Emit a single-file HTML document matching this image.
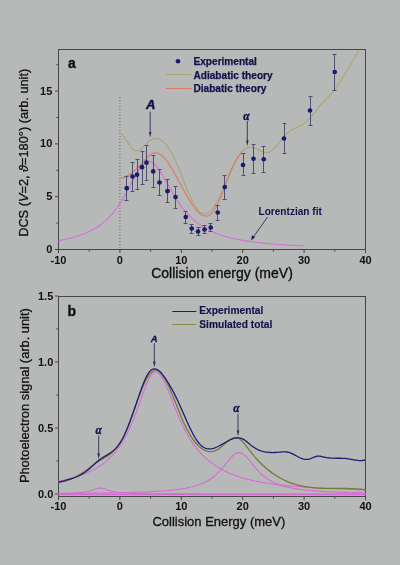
<!DOCTYPE html><html><head><meta charset="utf-8"><style>html,body{margin:0;padding:0;background:#b7b9b9;}svg{display:block;will-change:transform;}</style></head><body>
<svg width="400" height="565" viewBox="0 0 400 565" font-family="Liberation Sans, sans-serif">
<rect width="400" height="565" fill="#b7b9b9"/>
<rect x="58.5" y="49.5" width="307" height="200" fill="none" stroke="#464646" stroke-width="1"/>
<path d="M58.5,249.5 V253 M89.2,249.5 V251.7 M119.9,249.5 V253 M150.6,249.5 V251.7 M181.3,249.5 V253 M212,249.5 V251.7 M242.7,249.5 V253 M273.4,249.5 V251.7 M304.1,249.5 V253 M334.8,249.5 V251.7 M365.5,249.5 V253" stroke="#464646" stroke-width="1" fill="none"/>
<text x="58.5" y="264.2" font-size="11" font-weight="bold" text-anchor="middle" fill="#111">-10</text>
<text x="119.9" y="264.2" font-size="11" font-weight="bold" text-anchor="middle" fill="#111">0</text>
<text x="181.3" y="264.2" font-size="11" font-weight="bold" text-anchor="middle" fill="#111">10</text>
<text x="242.7" y="264.2" font-size="11" font-weight="bold" text-anchor="middle" fill="#111">20</text>
<text x="304.1" y="264.2" font-size="11" font-weight="bold" text-anchor="middle" fill="#111">30</text>
<text x="365.5" y="264.2" font-size="11" font-weight="bold" text-anchor="middle" fill="#111">40</text>
<path d="M58.5,249.5 H55 M58.5,223.1 H56.3 M58.5,196.7 H55 M58.5,170.3 H56.3 M58.5,143.9 H55 M58.5,117.5 H56.3 M58.5,91.1 H55 M58.5,64.7 H56.3" stroke="#464646" stroke-width="1" fill="none"/>
<text x="52.3" y="253" font-size="11" font-weight="bold" text-anchor="end" fill="#111">0</text>
<text x="52.3" y="200.2" font-size="11" font-weight="bold" text-anchor="end" fill="#111">5</text>
<text x="52.3" y="147.4" font-size="11" font-weight="bold" text-anchor="end" fill="#111">10</text>
<text x="52.3" y="94.6" font-size="11" font-weight="bold" text-anchor="end" fill="#111">15</text>
<text x="151.2" y="277.8" font-size="14" fill="#111" stroke="#111" stroke-width="0.35">Collision energy (meV)</text>
<text transform="translate(27.9,236.8) rotate(-90)" font-size="12.75" fill="#111" stroke="#111" stroke-width="0.3">DCS (<tspan font-style="italic">V</tspan>=2, <tspan font-style="italic">ϑ</tspan>=180°) (arb. unit)</text>
<text x="68" y="67.7" font-size="14" font-weight="bold" fill="#111" stroke="#111" stroke-width="0.35">a</text>
<line x1="119.9" y1="97" x2="119.9" y2="249" stroke="#555" stroke-width="0.8" stroke-dasharray="1 2"/>
<circle cx="178" cy="61.3" r="2.3" fill="#1a1a70"/>
<line x1="166" y1="74.5" x2="191.5" y2="74.5" stroke="#a6a672" stroke-width="1"/>
<line x1="166" y1="88.5" x2="191.5" y2="88.5" stroke="#da7866" stroke-width="1"/>
<g font-size="10.1" font-weight="bold" fill="#121248" stroke="#121248" stroke-width="0.25">
<text x="193.5" y="65.2">Experimental</text>
<text x="193.5" y="78.8">Adiabatic theory</text>
<text x="193.5" y="92.2">Diabatic theory</text>
</g>
<path d="M121,133.24 L121.5,133.75 L122,134.3 L122.5,134.89 L123,135.52 L123.5,136.18 L124,136.86 L124.5,137.57 L125,138.3 L125.5,139.04 L126,139.8 L126.5,140.56 L127,141.32 L127.5,142.09 L128,142.84 L128.5,143.59 L129,144.32 L129.5,145.03 L130,145.72 L130.5,146.39 L131,147.02 L131.5,147.62 L132,148.18 L132.5,148.69 L133,149.16 L133.5,149.57 L134,149.93 L134.5,150.23 L135,150.46 L135.5,150.63 L136,150.73 L136.5,150.77 L137,150.75 L137.5,150.67 L138,150.54 L138.5,150.37 L139,150.15 L139.5,149.88 L140,149.58 L140.5,149.24 L141,148.87 L141.5,148.47 L142,148.05 L142.5,147.6 L143,147.14 L143.5,146.66 L144,146.17 L144.5,145.67 L145,145.16 L145.5,144.66 L146,144.15 L146.5,143.65 L147,143.16 L147.5,142.67 L148,142.21 L148.5,141.76 L149,141.33 L149.5,140.93 L150,140.56 L150.5,140.21 L151,139.9 L151.5,139.62 L152,139.37 L152.5,139.16 L153,138.97 L153.5,138.81 L154,138.69 L154.5,138.59 L155,138.53 L155.5,138.49 L156,138.49 L156.5,138.52 L157,138.57 L157.5,138.66 L158,138.77 L158.5,138.92 L159,139.1 L159.5,139.3 L160,139.53 L160.5,139.8 L161,140.09 L161.5,140.41 L162,140.76 L162.5,141.14 L163,141.54 L163.5,141.98 L164,142.44 L164.5,142.94 L165,143.46 L165.5,144 L166,144.58 L166.5,145.18 L167,145.81 L167.5,146.47 L168,147.16 L168.5,147.87 L169,148.61 L169.5,149.38 L170,150.18 L170.5,151 L171,151.84 L171.5,152.72 L172,153.62 L172.5,154.55 L173,155.5 L173.5,156.48 L174,157.49 L174.5,158.52 L175,159.57 L175.5,160.66 L176,161.76 L176.5,162.9 L177,164.05 L177.5,165.23 L178,166.43 L178.5,167.65 L179,168.88 L179.5,170.12 L180,171.38 L180.5,172.65 L181,173.93 L181.5,175.21 L182,176.5 L182.5,177.79 L183,179.08 L183.5,180.37 L184,181.66 L184.5,182.94 L185,184.22 L185.5,185.48 L186,186.74 L186.5,187.98 L187,189.21 L187.5,190.43 L188,191.63 L188.5,192.8 L189,193.96 L189.5,195.09 L190,196.2 L190.5,197.29 L191,198.35 L191.5,199.39 L192,200.39 L192.5,201.37 L193,202.33 L193.5,203.25 L194,204.14 L194.5,204.99 L195,205.82 L195.5,206.61 L196,207.36 L196.5,208.08 L197,208.76 L197.5,209.4 L198,210.01 L198.5,210.57 L199,211.09 L199.5,211.57 L200,212 L200.5,212.4 L201,212.74 L201.5,213.04 L202,213.29 L202.5,213.49 L203,213.65 L203.5,213.75 L204,213.81 L204.5,213.83 L205,213.8 L205.5,213.73 L206,213.61 L206.5,213.45 L207,213.25 L207.5,213.01 L208,212.74 L208.5,212.42 L209,212.06 L209.5,211.67 L210,211.24 L210.5,210.77 L211,210.27 L211.5,209.74 L212,209.17 L212.5,208.57 L213,207.94 L213.5,207.28 L214,206.59 L214.5,205.87 L215,205.12 L215.5,204.35 L216,203.55 L216.5,202.72 L217,201.87 L217.5,200.99 L218,200.09 L218.5,199.17 L219,198.23 L219.5,197.26 L220,196.28 L220.5,195.27 L221,194.25 L221.5,193.21 L222,192.16 L222.5,191.09 L223,190 L223.5,188.9 L224,187.79 L224.5,186.66 L225,185.52 L225.5,184.37 L226,183.22 L226.5,182.05 L227,180.88 L227.5,179.71 L228,178.53 L228.5,177.35 L229,176.17 L229.5,175 L230,173.83 L230.5,172.67 L231,171.51 L231.5,170.37 L232,169.23 L232.5,168.11 L233,167.01 L233.5,165.92 L234,164.85 L234.5,163.79 L235,162.76 L235.5,161.76 L236,160.78 L236.5,159.82 L237,158.9 L237.5,158 L238,157.14 L238.5,156.3 L239,155.51 L239.5,154.75 L240,154.03 L240.5,153.35 L241,152.71 L241.5,152.11 L242,151.55 L242.5,151.02 L243,150.54 L243.5,150.08 L244,149.67 L244.5,149.29 L245,148.94 L245.5,148.63 L246,148.35 L246.5,148.1 L247,147.88 L247.5,147.7 L248,147.54 L248.5,147.41 L249,147.32 L249.5,147.25 L250,147.2 L250.5,147.19 L251,147.2 L251.5,147.23 L252,147.29 L252.5,147.38 L253,147.49 L253.5,147.62 L254,147.77 L254.5,147.93 L255,148.12 L255.5,148.32 L256,148.53 L256.5,148.76 L257,148.99 L257.5,149.23 L258,149.48 L258.5,149.73 L259,149.98 L259.5,150.22 L260,150.47 L260.5,150.71 L261,150.95 L261.5,151.17 L262,151.39 L262.5,151.59 L263,151.78 L263.5,151.95 L264,152.11 L264.5,152.24 L265,152.36 L265.5,152.44 L266,152.51 L266.5,152.54 L267,152.55 L267.5,152.52 L268,152.46 L268.5,152.36 L269,152.23 L269.5,152.05 L270,151.84 L270.5,151.58 L271,151.28 L271.5,150.94 L272,150.57 L272.5,150.16 L273,149.72 L273.5,149.25 L274,148.75 L274.5,148.22 L275,147.67 L275.5,147.1 L276,146.52 L276.5,145.91 L277,145.29 L277.5,144.66 L278,144.02 L278.5,143.38 L279,142.72 L279.5,142.07 L280,141.41 L280.5,140.76 L281,140.11 L281.5,139.46 L282,138.83 L282.5,138.2 L283,137.59 L283.5,136.99 L284,136.41 L284.5,135.85 L285,135.31 L285.5,134.79 L286,134.3 L286.5,133.83 L287,133.38 L287.5,132.95 L288,132.54 L288.5,132.14 L289,131.77 L289.5,131.41 L290,131.06 L290.5,130.73 L291,130.41 L291.5,130.11 L292,129.81 L292.5,129.53 L293,129.25 L293.5,128.98 L294,128.72 L294.5,128.46 L295,128.21 L295.5,127.97 L296,127.72 L296.5,127.48 L297,127.24 L297.5,127 L298,126.76 L298.5,126.52 L299,126.27 L299.5,126.02 L300,125.76 L300.5,125.5 L301,125.23 L301.5,124.95 L302,124.67 L302.5,124.37 L303,124.06 L303.5,123.74 L304,123.41 L304.5,123.07 L305,122.7 L305.5,122.32 L306,121.93 L306.5,121.52 L307,121.08 L307.5,120.63 L308,120.16 L308.5,119.66 L309,119.15 L309.5,118.62 L310,118.08 L310.5,117.51 L311,116.94 L311.5,116.35 L312,115.75 L312.5,115.14 L313,114.52 L313.5,113.9 L314,113.26 L314.5,112.62 L315,111.98 L315.5,111.33 L316,110.68 L316.5,110.03 L317,109.38 L317.5,108.74 L318,108.09 L318.5,107.45 L319,106.82 L319.5,106.19 L320,105.57 L320.5,104.95 L321,104.35 L321.5,103.76 L322,103.18 L322.5,102.62 L323,102.07 L323.5,101.53 L324,101 L324.5,100.49 L325,99.98 L325.5,99.47 L326,98.97 L326.5,98.47 L327,97.98 L327.5,97.48 L328,96.97 L328.5,96.47 L329,95.95 L329.5,95.42 L330,94.89 L330.5,94.34 L331,93.78 L331.5,93.21 L332,92.63 L332.5,92.03 L333,91.42 L333.5,90.8 L334,90.17 L334.5,89.53 L335,88.88 L335.5,88.22 L336,87.55 L336.5,86.87 L337,86.18 L337.5,85.48 L338,84.77 L338.5,84.05 L339,83.32 L339.5,82.59 L340,81.85 L340.5,81.09 L341,80.34 L341.5,79.57 L342,78.8 L342.5,78.02 L343,77.23 L343.5,76.44 L344,75.64 L344.5,74.83 L345,74.02 L345.5,73.2 L346,72.38 L346.5,71.55 L347,70.72 L347.5,69.89 L348,69.05 L348.5,68.2 L349,67.35 L349.5,66.5 L350,65.64 L350.5,64.79 L351,63.92 L351.5,63.06 L352,62.19 L352.5,61.33 L353,60.46 L353.5,59.58 L354,58.71 L354.5,57.83 L355,56.96 L355.5,56.08 L356,55.21 L356.5,54.33 L357,53.45 L357.5,52.57 L358,51.7 L358.5,50.82 L359,49.95" fill="none" stroke="#a6a672" stroke-width="1.1"/>
<path d="M119.5,178.59 L120,178.48 L120.5,178.35 L121,178.21 L121.5,178.06 L122,177.91 L122.5,177.74 L123,177.56 L123.5,177.38 L124,177.18 L124.5,176.97 L125,176.75 L125.5,176.53 L126,176.29 L126.5,176.04 L127,175.78 L127.5,175.52 L128,175.24 L128.5,174.95 L129,174.65 L129.5,174.34 L130,174.03 L130.5,173.7 L131,173.36 L131.5,173.01 L132,172.65 L132.5,172.28 L133,171.9 L133.5,171.5 L134,171.1 L134.5,170.69 L135,170.27 L135.5,169.84 L136,169.39 L136.5,168.94 L137,168.47 L137.5,168 L138,167.51 L138.5,167.02 L139,166.51 L139.5,165.99 L140,165.47 L140.5,164.93 L141,164.38 L141.5,163.82 L142,163.26 L142.5,162.69 L143,162.12 L143.5,161.54 L144,160.97 L144.5,160.41 L145,159.84 L145.5,159.29 L146,158.75 L146.5,158.21 L147,157.69 L147.5,157.19 L148,156.7 L148.5,156.24 L149,155.79 L149.5,155.37 L150,154.98 L150.5,154.61 L151,154.27 L151.5,153.96 L152,153.69 L152.5,153.46 L153,153.26 L153.5,153.1 L154,152.98 L154.5,152.9 L155,152.85 L155.5,152.85 L156,152.88 L156.5,152.94 L157,153.04 L157.5,153.18 L158,153.35 L158.5,153.55 L159,153.78 L159.5,154.05 L160,154.34 L160.5,154.67 L161,155.02 L161.5,155.4 L162,155.81 L162.5,156.25 L163,156.71 L163.5,157.2 L164,157.72 L164.5,158.26 L165,158.82 L165.5,159.4 L166,160.01 L166.5,160.64 L167,161.29 L167.5,161.95 L168,162.64 L168.5,163.35 L169,164.07 L169.5,164.81 L170,165.57 L170.5,166.35 L171,167.13 L171.5,167.94 L172,168.75 L172.5,169.58 L173,170.42 L173.5,171.27 L174,172.14 L174.5,173.01 L175,173.89 L175.5,174.78 L176,175.68 L176.5,176.59 L177,177.5 L177.5,178.41 L178,179.34 L178.5,180.26 L179,181.19 L179.5,182.13 L180,183.06 L180.5,184 L181,184.93 L181.5,185.87 L182,186.81 L182.5,187.74 L183,188.68 L183.5,189.6 L184,190.53 L184.5,191.45 L185,192.37 L185.5,193.28 L186,194.18 L186.5,195.08 L187,195.97 L187.5,196.85 L188,197.72 L188.5,198.58 L189,199.42 L189.5,200.26 L190,201.08 L190.5,201.89 L191,202.69 L191.5,203.47 L192,204.23 L192.5,204.98 L193,205.71 L193.5,206.42 L194,207.11 L194.5,207.79 L195,208.44 L195.5,209.07 L196,209.68 L196.5,210.27 L197,210.83 L197.5,211.37 L198,211.88 L198.5,212.37 L199,212.83 L199.5,213.27 L200,213.67 L200.5,214.05 L201,214.4 L201.5,214.71 L202,215 L202.5,215.25 L203,215.47 L203.5,215.66 L204,215.81 L204.5,215.93 L205,216.01 L205.5,216.05 L206,216.06 L206.5,216.03 L207,215.96 L207.5,215.85 L208,215.7 L208.5,215.51 L209,215.28 L209.5,215 L210,214.68 L210.5,214.32 L211,213.91 L211.5,213.45 L212,212.95 L212.5,212.4 L213,211.8 L213.5,211.16 L214,210.46 L214.5,209.71 L215,208.92 L215.5,208.07 L216,207.17 L216.5,206.22 L217,205.23 L217.5,204.2 L218,203.13 L218.5,202.03 L219,200.89 L219.5,199.72 L220,198.52 L220.5,197.29 L221,196.04 L221.5,194.77 L222,193.49 L222.5,192.18 L223,190.87 L223.5,189.54 L224,188.21 L224.5,186.87 L225,185.53 L225.5,184.19 L226,182.86 L226.5,181.52 L227,180.2 L227.5,178.89 L228,177.59 L228.5,176.31 L229,175.04 L229.5,173.8 L230,172.58 L230.5,171.39 L231,170.23 L231.5,169.09 L232,167.98 L232.5,166.9 L233,165.85 L233.5,164.83 L234,163.84 L234.5,162.88 L235,161.95 L235.5,161.05 L236,160.19 L236.5,159.36 L237,158.56 L237.5,157.8 L238,157.07 L238.5,156.38 L239,155.73 L239.5,155.11 L240,154.53 L240.5,153.99 L241,153.48 L241.5,153.02 L242,152.59" fill="none" stroke="#da7866" stroke-width="1.1"/>
<path d="M58.5,240.68 L60.03,240.41 L61.57,240.12 L63.11,239.82 L64.64,239.5 L66.17,239.17 L67.71,238.82 L69.25,238.46 L70.78,238.07 L72.31,237.67 L73.85,237.25 L75.39,236.81 L76.92,236.34 L78.45,235.85 L79.99,235.33 L81.53,234.79 L83.06,234.21 L84.59,233.61 L86.13,232.97 L87.66,232.29 L89.2,231.57 L90.73,230.82 L92.27,230.01 L93.81,229.17 L95.34,228.27 L96.88,227.31 L98.41,226.3 L99.94,225.22 L101.48,224.08 L103.02,222.87 L104.55,221.59 L106.09,220.22 L107.62,218.77 L109.16,217.23 L110.69,215.6 L112.22,213.87 L113.76,212.03 L115.3,210.08 L116.83,208.03 L118.37,205.86 L119.9,203.58 L121.44,201.18 L122.97,198.67 L124.5,196.05 L126.04,193.34 L127.58,190.55 L129.11,187.69 L130.64,184.78 L132.18,181.86 L133.72,178.96 L135.25,176.12 L136.78,173.38 L138.32,170.8 L139.86,168.42 L141.39,166.31 L142.93,164.52 L144.46,163.09 L146,162.06 L147.53,161.47 L149.06,161.33 L150.6,161.62 L152.13,162.3 L153.67,163.36 L155.2,164.78 L156.74,166.51 L158.28,168.52 L159.81,170.76 L161.34,173.18 L162.88,175.75 L164.42,178.42 L165.95,181.14 L167.49,183.89 L169.02,186.64 L170.56,189.36 L172.09,192.02 L173.62,194.62 L175.16,197.13 L176.69,199.56 L178.23,201.89 L179.76,204.12 L181.3,206.25 L182.83,208.28 L184.37,210.21 L185.91,212.04 L187.44,213.77 L188.97,215.41 L190.51,216.96 L192.04,218.43 L193.58,219.82 L195.12,221.13 L196.65,222.37 L198.19,223.54 L199.72,224.65 L201.25,225.69 L202.79,226.68 L204.32,227.61 L205.86,228.5 L207.4,229.34 L208.93,230.13 L210.47,230.88 L212,231.59 L213.53,232.27 L215.07,232.91 L216.6,233.51 L218.14,234.09 L219.68,234.64 L221.21,235.16 L222.75,235.66 L224.28,236.13 L225.81,236.58 L227.35,237.01 L228.88,237.42 L230.42,237.81 L231.96,238.18 L233.49,238.54 L235.03,238.88 L236.56,239.2 L238.09,239.51 L239.63,239.81 L241.16,240.1 L242.7,240.37 L244.24,240.63 L245.77,240.88 L247.31,241.12 L248.84,241.36 L250.38,241.58 L251.91,241.79 L253.44,242 L254.98,242.19 L256.51,242.38 L258.05,242.57 L259.59,242.74 L261.12,242.91 L262.65,243.08 L264.19,243.23 L265.73,243.39 L267.26,243.53 L268.79,243.67 L270.33,243.81 L271.87,243.94 L273.4,244.07 L274.94,244.19 L276.47,244.31 L278,244.43 L279.54,244.54 L281.07,244.65 L282.61,244.75 L284.14,244.85 L285.68,244.95 L287.22,245.05 L288.75,245.14 L290.28,245.23 L291.82,245.32 L293.36,245.4 L294.89,245.48 L296.43,245.56 L297.96,245.64 L299.5,245.71 L301.03,245.79 L302.56,245.86 L304.1,245.93" fill="none" stroke="#d86cd8" stroke-width="1.1"/>
<path d="M126.5,176.5 V200.5 M124.5,176.5 H128.5 M124.5,200.5 H128.5 M132.5,162.5 V191.5 M130.5,162.5 H134.5 M130.5,191.5 H134.5 M137.5,159.5 V189.5 M135.5,159.5 H139.5 M135.5,189.5 H139.5 M142.5,151.5 V184.5 M140.5,151.5 H144.5 M140.5,184.5 H144.5 M146.5,145.5 V180.5 M144.5,145.5 H148.5 M144.5,180.5 H148.5 M153.5,155.5 V187.5 M151.5,155.5 H155.5 M151.5,187.5 H155.5 M159.5,169.5 V195.5 M157.5,169.5 H161.5 M157.5,195.5 H161.5 M167.5,179.5 V202.5 M165.5,179.5 H169.5 M165.5,202.5 H169.5 M175.5,186.5 V208.5 M173.5,186.5 H177.5 M173.5,208.5 H177.5 M185.5,211.5 V223.5 M183.5,211.5 H187.5 M183.5,223.5 H187.5 M191.5,224.5 V233.5 M189.5,224.5 H193.5 M189.5,233.5 H193.5 M198.5,227.5 V235.5 M196.5,227.5 H200.5 M196.5,235.5 H200.5 M204.5,225.5 V233.5 M202.5,225.5 H206.5 M202.5,233.5 H206.5 M210.5,223.5 V231.5 M208.5,223.5 H212.5 M208.5,231.5 H212.5 M217.5,205.5 V220.5 M215.5,205.5 H219.5 M215.5,220.5 H219.5 M224.5,175.5 V199.5 M222.5,175.5 H226.5 M222.5,199.5 H226.5 M243.5,153.5 V175.5 M241.5,153.5 H245.5 M241.5,175.5 H245.5 M253.5,144.5 V173.5 M251.5,144.5 H255.5 M251.5,173.5 H255.5 M263.5,146.5 V172.5 M261.5,146.5 H265.5 M261.5,172.5 H265.5 M284.5,123.5 V153.5 M282.5,123.5 H286.5 M282.5,153.5 H286.5 M310.5,96.5 V125.5 M308.5,96.5 H312.5 M308.5,125.5 H312.5 M334.5,54.5 V90.5 M332.5,54.5 H336.5 M332.5,90.5 H336.5" stroke="#50506e" stroke-width="1" fill="none"/>
<circle cx="126.7" cy="188.2" r="2.35" fill="#1a1a70"/>
<circle cx="132.5" cy="176.5" r="2.35" fill="#1a1a70"/>
<circle cx="137" cy="174.7" r="2.35" fill="#1a1a70"/>
<circle cx="142" cy="167.2" r="2.35" fill="#1a1a70"/>
<circle cx="146.5" cy="162.7" r="2.35" fill="#1a1a70"/>
<circle cx="153.2" cy="171.4" r="2.35" fill="#1a1a70"/>
<circle cx="159.5" cy="182.5" r="2.35" fill="#1a1a70"/>
<circle cx="167.5" cy="191.2" r="2.35" fill="#1a1a70"/>
<circle cx="175.5" cy="197" r="2.35" fill="#1a1a70"/>
<circle cx="185.75" cy="217" r="2.35" fill="#1a1a70"/>
<circle cx="191.75" cy="228.5" r="2.35" fill="#1a1a70"/>
<circle cx="198" cy="231.5" r="2.35" fill="#1a1a70"/>
<circle cx="204.5" cy="229.5" r="2.35" fill="#1a1a70"/>
<circle cx="210.75" cy="227.5" r="2.35" fill="#1a1a70"/>
<circle cx="217.75" cy="212.5" r="2.35" fill="#1a1a70"/>
<circle cx="224.75" cy="187" r="2.35" fill="#1a1a70"/>
<circle cx="243" cy="165" r="2.35" fill="#1a1a70"/>
<circle cx="253.5" cy="158.75" r="2.35" fill="#1a1a70"/>
<circle cx="263.75" cy="159.25" r="2.35" fill="#1a1a70"/>
<circle cx="284" cy="138.5" r="2.35" fill="#1a1a70"/>
<circle cx="310" cy="110.5" r="2.35" fill="#1a1a70"/>
<circle cx="334.75" cy="72" r="2.35" fill="#1a1a70"/>
<text x="146" y="109.3" font-size="13" font-weight="bold" font-style="italic" fill="#121248" stroke="#121248" stroke-width="0.5">A</text>
<path d="M150.2,111.7 V133" stroke="#3a3a5a" stroke-width="1"/>
<path d="M148.9,132 L151.5,132 L150.2,137.5 Z" fill="#2a2a50"/>
<text x="243.2" y="119.8" font-size="11.5" font-weight="bold" font-style="italic" font-family="Liberation Serif" fill="#121248" stroke="#121248" stroke-width="0.4">α</text>
<path d="M247.3,121 V141.5" stroke="#3a3a5a" stroke-width="1"/>
<path d="M246,140.5 L248.6,140.5 L247.3,146 Z" fill="#2a2a50"/>
<text x="258.5" y="214.8" font-size="10.1" font-weight="bold" fill="#121248">Lorentzian fit</text>
<path d="M267.5,217 L253,237.5" stroke="#3a3a5a" stroke-width="1"/>
<path d="M251.2,240.3 L252,235.2 L255,237.3 Z" fill="#121248"/>
<rect x="58.5" y="296.5" width="307" height="200" fill="none" stroke="#464646" stroke-width="1"/>
<path d="M58.5,496.5 V500 M89.2,496.5 V498.7 M119.9,496.5 V500 M150.6,496.5 V498.7 M181.3,496.5 V500 M212,496.5 V498.7 M242.7,496.5 V500 M273.4,496.5 V498.7 M304.1,496.5 V500 M334.8,496.5 V498.7 M365.5,496.5 V500" stroke="#464646" stroke-width="1" fill="none"/>
<text x="58.5" y="510.2" font-size="11" font-weight="bold" text-anchor="middle" fill="#111">-10</text>
<text x="119.9" y="510.2" font-size="11" font-weight="bold" text-anchor="middle" fill="#111">0</text>
<text x="181.3" y="510.2" font-size="11" font-weight="bold" text-anchor="middle" fill="#111">10</text>
<text x="242.7" y="510.2" font-size="11" font-weight="bold" text-anchor="middle" fill="#111">20</text>
<text x="304.1" y="510.2" font-size="11" font-weight="bold" text-anchor="middle" fill="#111">30</text>
<text x="365.5" y="510.2" font-size="11" font-weight="bold" text-anchor="middle" fill="#111">40</text>
<path d="M58.5,494 H55 M58.5,461 H56.3 M58.5,428 H55 M58.5,395 H56.3 M58.5,362 H55 M58.5,329 H56.3 M58.5,296 H55" stroke="#464646" stroke-width="1" fill="none"/>
<text x="53.3" y="498" font-size="11" font-weight="bold" text-anchor="end" fill="#111">0.0</text>
<text x="53.3" y="432" font-size="11" font-weight="bold" text-anchor="end" fill="#111">0.5</text>
<text x="53.3" y="366" font-size="11" font-weight="bold" text-anchor="end" fill="#111">1.0</text>
<text x="53.3" y="300" font-size="11" font-weight="bold" text-anchor="end" fill="#111">1.5</text>
<text x="152.4" y="526" font-size="13" fill="#111" stroke="#111" stroke-width="0.3">Collision Energy (meV)</text>
<text transform="translate(29.2,483.1) rotate(-90)" font-size="12.85" fill="#111" stroke="#111" stroke-width="0.3">Photoelectron signal (arb. unit)</text>
<text x="67.5" y="315.7" font-size="14" font-weight="bold" fill="#111" stroke="#111" stroke-width="0.35">b</text>
<line x1="172.3" y1="311.5" x2="196.4" y2="311.5" stroke="#1c1c78" stroke-width="1"/>
<line x1="172.3" y1="324.5" x2="196.4" y2="324.5" stroke="#8a8a44" stroke-width="1"/>
<g font-size="10.2" font-weight="bold" fill="#121248" stroke="#121248" stroke-width="0.15">
<text x="199.3" y="314.3">Experimental</text>
<text x="199.3" y="327.9">Simulated total</text>
</g>
<path d="M58.5,494.5 H365.5" stroke="#d46cd4" stroke-width="1.3"/>
<path d="M58.5,493.61 L60.03,493.58 L61.57,493.55 L63.11,493.52 L64.64,493.48 L66.17,493.43 L67.71,493.39 L69.25,493.33 L70.78,493.27 L72.31,493.2 L73.85,493.11 L75.39,493.02 L76.92,492.91 L78.45,492.79 L79.99,492.64 L81.53,492.47 L83.06,492.26 L84.59,492.02 L86.13,491.74 L87.66,491.41 L89.2,491.03 L90.73,490.59 L92.27,490.1 L93.81,489.57 L95.34,489.04 L96.88,488.57 L98.41,488.22 L99.94,488.06 L101.48,488.13 L103.02,488.41 L104.55,488.84 L106.09,489.35 L107.62,489.89 L109.16,490.4 L110.69,490.86 L112.22,491.27 L113.76,491.62 L115.3,491.92 L116.83,492.17 L118.37,492.39 L119.9,492.57 L121.44,492.73 L122.97,492.86 L124.5,492.98 L126.04,493.08 L127.58,493.16 L129.11,493.24 L130.64,493.31 L132.18,493.36 L133.72,493.42 L135.25,493.46 L136.78,493.5 L138.32,493.54 L139.86,493.57 L141.39,493.6 L142.93,493.63 L144.46,493.65 L146,493.67 L147.53,493.69 L149.06,493.71 L150.6,493.73 L152.13,493.74 L153.67,493.76 L155.2,493.77 L156.74,493.78 L158.28,493.79 L159.81,493.8 L161.34,493.81 L162.88,493.82 L164.42,493.83 L165.95,493.84 L167.49,493.84 L169.02,493.85 L170.56,493.86 L172.09,493.86 L173.62,493.87 L175.16,493.87 L176.69,493.88 L178.23,493.88 L179.76,493.89 L181.3,493.89 L182.83,493.9 L184.37,493.9 L185.91,493.9 L187.44,493.91 L188.97,493.91 L190.51,493.91 L192.04,493.92 L193.58,493.92 L195.12,493.92 L196.65,493.92 L198.19,493.93 L199.72,493.93 L201.25,493.93 L202.79,493.93 L204.32,493.93 L205.86,493.94 L207.4,493.94 L208.93,493.94 L210.47,493.94 L212,493.94 L213.53,493.94 L215.07,493.95 L216.6,493.95 L218.14,493.95 L219.68,493.95 L221.21,493.95 L222.75,493.95 L224.28,493.95 L225.81,493.95 L227.35,493.96 L228.88,493.96 L230.42,493.96 L231.96,493.96 L233.49,493.96 L235.03,493.96 L236.56,493.96 L238.09,493.96 L239.63,493.96 L241.16,493.96 L242.7,493.96 L244.24,493.97 L245.77,493.97 L247.31,493.97 L248.84,493.97 L250.38,493.97 L251.91,493.97 L253.44,493.97 L254.98,493.97 L256.51,493.97 L258.05,493.97 L259.59,493.97 L261.12,493.97 L262.65,493.97 L264.19,493.97 L265.73,493.97 L267.26,493.97 L268.79,493.97 L270.33,493.98 L271.87,493.98 L273.4,493.98 L274.94,493.98 L276.47,493.98 L278,493.98 L279.54,493.98 L281.07,493.98 L282.61,493.98 L284.14,493.98 L285.68,493.98 L287.22,493.98 L288.75,493.98 L290.28,493.98 L291.82,493.98 L293.36,493.98 L294.89,493.98 L296.43,493.98 L297.96,493.98 L299.5,493.98 L301.03,493.98 L302.56,493.98 L304.1,493.98 L305.63,493.98 L307.17,493.98 L308.71,493.98 L310.24,493.98 L311.77,493.98 L313.31,493.98 L314.85,493.98 L316.38,493.98 L317.92,493.98 L319.45,493.98 L320.99,493.99 L322.52,493.99 L324.06,493.99 L325.59,493.99 L327.12,493.99 L328.66,493.99 L330.19,493.99 L331.73,493.99 L333.26,493.99 L334.8,493.99 L336.33,493.99 L337.87,493.99 L339.4,493.99 L340.94,493.99 L342.48,493.99 L344.01,493.99 L345.55,493.99 L347.08,493.99 L348.62,493.99 L350.15,493.99 L351.69,493.99 L353.22,493.99 L354.75,493.99 L356.29,493.99 L357.82,493.99 L359.36,493.99 L360.89,493.99 L362.43,493.99 L363.96,493.99 L365.5,493.99" fill="none" stroke="#d46cd4" stroke-width="1.1"/>
<path d="M58.5,481.19 L60.03,480.88 L61.57,480.56 L63.11,480.22 L64.64,479.87 L66.17,479.51 L67.71,479.13 L69.25,478.74 L70.78,478.33 L72.31,477.9 L73.85,477.46 L75.39,477 L76.92,476.52 L78.45,476.02 L79.99,475.5 L81.53,474.95 L83.06,474.38 L84.59,473.78 L86.13,473.16 L87.66,472.5 L89.2,471.81 L90.73,471.09 L92.27,470.34 L93.81,469.54 L95.34,468.7 L96.88,467.82 L98.41,466.89 L99.94,465.91 L101.48,464.87 L103.02,463.77 L104.55,462.6 L106.09,461.37 L107.62,460.06 L109.16,458.67 L110.69,457.18 L112.22,455.61 L113.76,453.93 L115.3,452.14 L116.83,450.23 L118.37,448.19 L119.9,446.01 L121.44,443.69 L122.97,441.21 L124.5,438.56 L126.04,435.74 L127.58,432.73 L129.11,429.54 L130.64,426.16 L132.18,422.6 L133.72,418.84 L135.25,414.92 L136.78,410.84 L138.32,406.65 L139.86,402.37 L141.39,398.06 L142.93,393.79 L144.46,389.64 L146,385.7 L147.53,382.07 L149.06,378.86 L150.6,376.17 L152.13,374.09 L153.67,372.71 L155.2,372.07 L156.74,372.19 L158.28,372.97 L159.81,374.38 L161.34,376.38 L162.88,378.89 L164.42,381.85 L165.95,385.15 L167.49,388.73 L169.02,392.5 L170.56,396.39 L172.09,400.32 L173.62,404.25 L175.16,408.12 L176.69,411.92 L178.23,415.59 L179.76,419.14 L181.3,422.54 L182.83,425.78 L184.37,428.88 L185.91,431.81 L187.44,434.6 L188.97,437.23 L190.51,439.73 L192.04,442.09 L193.58,444.31 L195.12,446.42 L196.65,448.41 L198.19,450.29 L199.72,452.07 L201.25,453.75 L202.79,455.35 L204.32,456.85 L205.86,458.29 L207.4,459.64 L208.93,460.93 L210.47,462.15 L212,463.31 L213.53,464.42 L215.07,465.47 L216.6,466.47 L218.14,467.42 L219.68,468.33 L221.21,469.19 L222.75,470.02 L224.28,470.8 L225.81,471.55 L227.35,472.27 L228.88,472.96 L230.42,473.61 L231.96,474.23 L233.49,474.83 L235.03,475.4 L236.56,475.95 L238.09,476.48 L239.63,476.98 L241.16,477.46 L242.7,477.92 L244.24,478.36 L245.77,478.78 L247.31,479.19 L248.84,479.58 L250.38,479.95 L251.91,480.31 L253.44,480.66 L254.98,480.99 L256.51,481.31 L258.05,481.61 L259.59,481.91 L261.12,482.19 L262.65,482.46 L264.19,482.72 L265.73,482.98 L267.26,483.22 L268.79,483.46 L270.33,483.68 L271.87,483.9 L273.4,484.11 L274.94,484.32 L276.47,484.51 L278,484.7 L279.54,484.89 L281.07,485.07 L282.61,485.24 L284.14,485.4 L285.68,485.56 L287.22,485.72 L288.75,485.87 L290.28,486.02 L291.82,486.16 L293.36,486.29 L294.89,486.43 L296.43,486.56 L297.96,486.68 L299.5,486.8 L301.03,486.92 L302.56,487.03 L304.1,487.14 L305.63,487.25 L307.17,487.36 L308.71,487.46 L310.24,487.56 L311.77,487.65 L313.31,487.75 L314.85,487.84 L316.38,487.93 L317.92,488.01 L319.45,488.1 L320.99,488.18 L322.52,488.26 L324.06,488.33 L325.59,488.41 L327.12,488.48 L328.66,488.56 L330.19,488.63 L331.73,488.69 L333.26,488.76 L334.8,488.82 L336.33,488.89 L337.87,488.95 L339.4,489.01 L340.94,489.07 L342.48,489.13 L344.01,489.18 L345.55,489.24 L347.08,489.29 L348.62,489.34 L350.15,489.39 L351.69,489.44 L353.22,489.49 L354.75,489.54 L356.29,489.59 L357.82,489.63 L359.36,489.68 L360.89,489.72 L362.43,489.76 L363.96,489.8 L365.5,489.85" fill="none" stroke="#d46cd4" stroke-width="1.1"/>
<path d="M58.5,493.42 L60.03,493.41 L61.57,493.4 L63.11,493.39 L64.64,493.38 L66.17,493.37 L67.71,493.36 L69.25,493.35 L70.78,493.33 L72.31,493.32 L73.85,493.31 L75.39,493.3 L76.92,493.28 L78.45,493.27 L79.99,493.26 L81.53,493.24 L83.06,493.23 L84.59,493.21 L86.13,493.2 L87.66,493.18 L89.2,493.16 L90.73,493.15 L92.27,493.13 L93.81,493.11 L95.34,493.09 L96.88,493.07 L98.41,493.05 L99.94,493.03 L101.48,493.01 L103.02,492.99 L104.55,492.97 L106.09,492.94 L107.62,492.92 L109.16,492.9 L110.69,492.87 L112.22,492.84 L113.76,492.81 L115.3,492.79 L116.83,492.76 L118.37,492.73 L119.9,492.69 L121.44,492.66 L122.97,492.63 L124.5,492.59 L126.04,492.55 L127.58,492.51 L129.11,492.47 L130.64,492.43 L132.18,492.39 L133.72,492.34 L135.25,492.3 L136.78,492.25 L138.32,492.19 L139.86,492.14 L141.39,492.08 L142.93,492.03 L144.46,491.96 L146,491.9 L147.53,491.83 L149.06,491.76 L150.6,491.69 L152.13,491.61 L153.67,491.53 L155.2,491.44 L156.74,491.35 L158.28,491.26 L159.81,491.16 L161.34,491.05 L162.88,490.94 L164.42,490.82 L165.95,490.7 L167.49,490.57 L169.02,490.43 L170.56,490.28 L172.09,490.13 L173.62,489.96 L175.16,489.78 L176.69,489.6 L178.23,489.4 L179.76,489.18 L181.3,488.95 L182.83,488.71 L184.37,488.45 L185.91,488.17 L187.44,487.87 L188.97,487.55 L190.51,487.2 L192.04,486.83 L193.58,486.42 L195.12,485.99 L196.65,485.52 L198.19,485.01 L199.72,484.46 L201.25,483.86 L202.79,483.21 L204.32,482.51 L205.86,481.74 L207.4,480.9 L208.93,480 L210.47,479.01 L212,477.94 L213.53,476.77 L215.07,475.51 L216.6,474.15 L218.14,472.68 L219.68,471.1 L221.21,469.42 L222.75,467.65 L224.28,465.81 L225.81,463.91 L227.35,461.99 L228.88,460.09 L230.42,458.27 L231.96,456.59 L233.49,455.12 L235.03,453.93 L236.56,453.09 L238.09,452.63 L239.63,452.59 L241.16,452.96 L242.7,453.74 L244.24,454.86 L245.77,456.28 L247.31,457.92 L248.84,459.72 L250.38,461.6 L251.91,463.52 L253.44,465.43 L254.98,467.29 L256.51,469.08 L258.05,470.77 L259.59,472.37 L261.12,473.86 L262.65,475.25 L264.19,476.53 L265.73,477.71 L267.26,478.8 L268.79,479.81 L270.33,480.73 L271.87,481.58 L273.4,482.36 L274.94,483.07 L276.47,483.73 L278,484.34 L279.54,484.9 L281.07,485.42 L282.61,485.9 L284.14,486.34 L285.68,486.75 L287.22,487.13 L288.75,487.48 L290.28,487.81 L291.82,488.11 L293.36,488.39 L294.89,488.66 L296.43,488.91 L297.96,489.14 L299.5,489.35 L301.03,489.56 L302.56,489.75 L304.1,489.93 L305.63,490.09 L307.17,490.25 L308.71,490.4 L310.24,490.54 L311.77,490.67 L313.31,490.8 L314.85,490.92 L316.38,491.03 L317.92,491.14 L319.45,491.24 L320.99,491.33 L322.52,491.43 L324.06,491.51 L325.59,491.59 L327.12,491.67 L328.66,491.75 L330.19,491.82 L331.73,491.89 L333.26,491.95 L334.8,492.01 L336.33,492.07 L337.87,492.13 L339.4,492.18 L340.94,492.24 L342.48,492.29 L344.01,492.33 L345.55,492.38 L347.08,492.42 L348.62,492.47 L350.15,492.51 L351.69,492.55 L353.22,492.58 L354.75,492.62 L356.29,492.65 L357.82,492.69 L359.36,492.72 L360.89,492.75 L362.43,492.78 L363.96,492.81 L365.5,492.84" fill="none" stroke="#d46cd4" stroke-width="1.1"/>
<path d="M59,482.07 L60,481.98 L61,481.85 L62,481.7 L63,481.52 L64,481.31 L65,481.07 L66,480.8 L67,480.51 L68,480.19 L69,479.84 L70,479.47 L71,479.08 L72,478.66 L73,478.22 L74,477.75 L75,477.26 L76,476.75 L77,476.22 L78,475.67 L79,475.09 L80,474.5 L81,473.89 L82,473.26 L83,472.61 L84,471.94 L85,471.26 L86,470.56 L87,469.84 L88,469.11 L89,468.37 L90,467.61 L91,466.85 L92,466.08 L93,465.32 L94,464.57 L95,463.82 L96,463.09 L97,462.38 L98,461.69 L99,461.04 L100,460.41 L101,459.8 L102,459.22 L103,458.64 L104,458.06 L105,457.48 L106,456.88 L107,456.26 L108,455.6 L109,454.91 L110,454.17 L111,453.38 L112,452.53 L113,451.6 L114,450.6 L115,449.51 L116,448.33 L117,447.06 L118,445.69 L119,444.23 L120,442.67 L121,441 L122,439.22 L123,437.33 L124,435.33 L125,433.22 L126,430.98 L127,428.63 L128,426.15 L129,423.58 L130,420.93 L131,418.21 L132,415.44 L133,412.65 L134,409.83 L135,407.02 L136,404.23 L137,401.47 L138,398.76 L139,396.11 L140,393.52 L141,391.01 L142,388.59 L143,386.28 L144,384.07 L145,381.98 L146,380.03 L147,378.21 L148,376.55 L149,375.06 L150,373.74 L151,372.61 L152,371.67 L153,370.94 L154,370.42 L155,370.14 L156,370.09 L157,370.29 L158,370.71 L159,371.34 L160,372.18 L161,373.21 L162,374.42 L163,375.8 L164,377.34 L165,379.02 L166,380.84 L167,382.78 L168,384.83 L169,386.98 L170,389.21 L171,391.52 L172,393.9 L173,396.33 L174,398.8 L175,401.29 L176,403.81 L177,406.33 L178,408.84 L179,411.34 L180,413.81 L181,416.24 L182,418.61 L183,420.92 L184,423.16 L185,425.31 L186,427.37 L187,429.34 L188,431.23 L189,433.04 L190,434.75 L191,436.38 L192,437.93 L193,439.39 L194,440.77 L195,442.06 L196,443.27 L197,444.39 L198,445.44 L199,446.39 L200,447.27 L201,448.06 L202,448.78 L203,449.41 L204,449.95 L205,450.42 L206,450.81 L207,451.11 L208,451.34 L209,451.48 L210,451.55 L211,451.54 L212,451.44 L213,451.27 L214,451.02 L215,450.7 L216,450.29 L217,449.81 L218,449.25 L219,448.61 L220,447.9 L221,447.13 L222,446.31 L223,445.46 L224,444.58 L225,443.7 L226,442.83 L227,441.98 L228,441.17 L229,440.41 L230,439.71 L231,439.09 L232,438.56 L233,438.15 L234,437.85 L235,437.69 L236,437.68 L237,437.83 L238,438.16 L239,438.66 L240,439.33 L241,440.13 L242,441.07 L243,442.1 L244,443.23 L245,444.43 L246,445.69 L247,446.99 L248,448.31 L249,449.63 L250,450.94 L251,452.22 L252,453.48 L253,454.7 L254,455.9 L255,457.06 L256,458.2 L257,459.31 L258,460.39 L259,461.45 L260,462.48 L261,463.48 L262,464.46 L263,465.41 L264,466.33 L265,467.23 L266,468.11 L267,468.96 L268,469.78 L269,470.59 L270,471.37 L271,472.12 L272,472.86 L273,473.57 L274,474.26 L275,474.92 L276,475.57 L277,476.19 L278,476.8 L279,477.38 L280,477.95 L281,478.49 L282,479.02 L283,479.52 L284,480.01 L285,480.48 L286,480.93 L287,481.37 L288,481.79 L289,482.19 L290,482.57 L291,482.94 L292,483.29 L293,483.63 L294,483.95 L295,484.25 L296,484.55 L297,484.83 L298,485.09 L299,485.34 L300,485.58 L301,485.81 L302,486.02 L303,486.22 L304,486.41 L305,486.59 L306,486.76 L307,486.91 L308,487.06 L309,487.2 L310,487.32 L311,487.44 L312,487.55 L313,487.65 L314,487.74 L315,487.83 L316,487.9 L317,487.97 L318,488.04 L319,488.09 L320,488.15 L321,488.19 L322,488.23 L323,488.26 L324,488.29 L325,488.32 L326,488.34 L327,488.36 L328,488.37 L329,488.38 L330,488.39 L331,488.4 L332,488.4 L333,488.41 L334,488.41 L335,488.41 L336,488.41 L337,488.41 L338,488.41 L339,488.41 L340,488.41 L341,488.42 L342,488.42 L343,488.43 L344,488.44 L345,488.45 L346,488.46 L347,488.48 L348,488.5 L349,488.52 L350,488.55 L351,488.59 L352,488.63 L353,488.67 L354,488.72 L355,488.78 L356,488.84 L357,488.91 L358,488.98 L359,489.07 L360,489.16 L361,489.26 L362,489.36 L363,489.48 L364,489.61 L365,489.74" fill="none" stroke="#7a7a30" stroke-width="1.3"/>
<path d="M59,482.28 L60,481.97 L61,481.67 L62,481.37 L63,481.09 L64,480.8 L65,480.52 L66,480.24 L67,479.96 L68,479.67 L69,479.38 L70,479.08 L71,478.77 L72,478.44 L73,478.1 L74,477.75 L75,477.38 L76,476.98 L77,476.57 L78,476.12 L79,475.66 L80,475.16 L81,474.63 L82,474.07 L83,473.48 L84,472.84 L85,472.17 L86,471.46 L87,470.71 L88,469.91 L89,469.06 L90,468.18 L91,467.27 L92,466.34 L93,465.4 L94,464.46 L95,463.53 L96,462.62 L97,461.74 L98,460.9 L99,460.1 L100,459.35 L101,458.66 L102,458 L103,457.37 L104,456.77 L105,456.18 L106,455.59 L107,455 L108,454.4 L109,453.77 L110,453.12 L111,452.43 L112,451.69 L113,450.9 L114,450.04 L115,449.11 L116,448.1 L117,447 L118,445.79 L119,444.47 L120,443.04 L121,441.47 L122,439.77 L123,437.92 L124,435.93 L125,433.81 L126,431.57 L127,429.21 L128,426.76 L129,424.21 L130,421.58 L131,418.87 L132,416.09 L133,413.26 L134,410.39 L135,407.47 L136,404.53 L137,401.57 L138,398.61 L139,395.67 L140,392.78 L141,389.96 L142,387.23 L143,384.6 L144,382.11 L145,379.77 L146,377.61 L147,375.65 L148,373.9 L149,372.39 L150,371.15 L151,370.18 L152,369.48 L153,369.03 L154,368.82 L155,368.84 L156,369.06 L157,369.48 L158,370.07 L159,370.82 L160,371.73 L161,372.76 L162,373.91 L163,375.17 L164,376.51 L165,377.92 L166,379.39 L167,380.91 L168,382.5 L169,384.14 L170,385.83 L171,387.58 L172,389.38 L173,391.24 L174,393.15 L175,395.11 L176,397.13 L177,399.19 L178,401.32 L179,403.49 L180,405.7 L181,407.94 L182,410.2 L183,412.48 L184,414.76 L185,417.04 L186,419.3 L187,421.54 L188,423.74 L189,425.91 L190,428.02 L191,430.08 L192,432.06 L193,433.97 L194,435.79 L195,437.52 L196,439.13 L197,440.64 L198,442.02 L199,443.27 L200,444.38 L201,445.35 L202,446.19 L203,446.91 L204,447.5 L205,447.99 L206,448.36 L207,448.63 L208,448.81 L209,448.89 L210,448.89 L211,448.81 L212,448.65 L213,448.43 L214,448.15 L215,447.81 L216,447.42 L217,446.98 L218,446.51 L219,446 L220,445.47 L221,444.92 L222,444.35 L223,443.77 L224,443.19 L225,442.61 L226,442.03 L227,441.47 L228,440.93 L229,440.42 L230,439.93 L231,439.49 L232,439.08 L233,438.72 L234,438.42 L235,438.18 L236,438 L237,437.9 L238,437.87 L239,437.93 L240,438.07 L241,438.31 L242,438.65 L243,439.09 L244,439.65 L245,440.32 L246,441.07 L247,441.88 L248,442.72 L249,443.58 L250,444.42 L251,445.22 L252,445.98 L253,446.69 L254,447.37 L255,447.99 L256,448.58 L257,449.12 L258,449.61 L259,450.06 L260,450.46 L261,450.82 L262,451.14 L263,451.42 L264,451.67 L265,451.88 L266,452.06 L267,452.2 L268,452.32 L269,452.41 L270,452.47 L271,452.51 L272,452.53 L273,452.53 L274,452.51 L275,452.48 L276,452.43 L277,452.37 L278,452.29 L279,452.21 L280,452.13 L281,452.04 L282,451.95 L283,451.89 L284,451.85 L285,451.84 L286,451.89 L287,452 L288,452.18 L289,452.44 L290,452.77 L291,453.16 L292,453.6 L293,454.09 L294,454.6 L295,455.14 L296,455.68 L297,456.23 L298,456.77 L299,457.28 L300,457.77 L301,458.21 L302,458.61 L303,458.94 L304,459.2 L305,459.38 L306,459.47 L307,459.46 L308,459.33 L309,459.11 L310,458.79 L311,458.42 L312,458.02 L313,457.6 L314,457.19 L315,456.81 L316,456.49 L317,456.24 L318,456.1 L319,456.08 L320,456.16 L321,456.31 L322,456.52 L323,456.77 L324,457.03 L325,457.27 L326,457.48 L327,457.66 L328,457.8 L329,457.92 L330,458.02 L331,458.09 L332,458.15 L333,458.18 L334,458.21 L335,458.22 L336,458.23 L337,458.23 L338,458.23 L339,458.24 L340,458.24 L341,458.25 L342,458.28 L343,458.31 L344,458.36 L345,458.43 L346,458.52 L347,458.63 L348,458.77 L349,458.93 L350,459.11 L351,459.3 L352,459.49 L353,459.68 L354,459.87 L355,460.04 L356,460.2 L357,460.34 L358,460.45 L359,460.53 L360,460.57 L361,460.56 L362,460.51 L363,460.4 L364,460.24 L365,460" fill="none" stroke="#1e1e74" stroke-width="1.3"/>
<text x="150.8" y="341.8" font-size="9.5" font-weight="bold" font-style="italic" fill="#121248" stroke="#121248" stroke-width="0.3">A</text>
<path d="M154.3,343.1 V362.5" stroke="#3a3a5a" stroke-width="1"/>
<path d="M153,361.5 L155.6,361.5 L154.3,367.2 Z" fill="#2a2a50"/>
<text x="95.4" y="434" font-size="11.5" font-weight="bold" font-style="italic" font-family="Liberation Serif" fill="#121248" stroke="#121248" stroke-width="0.3">α</text>
<path d="M98.7,435.5 V454" stroke="#3a3a5a" stroke-width="1"/>
<path d="M97.4,453.5 L100,453.5 L98.7,459 Z" fill="#2a2a50"/>
<text x="233.2" y="411.6" font-size="11.5" font-weight="bold" font-style="italic" font-family="Liberation Serif" fill="#121248" stroke="#121248" stroke-width="0.3">α</text>
<path d="M238,413.7 V431" stroke="#3a3a5a" stroke-width="1"/>
<path d="M236.7,430.5 L239.3,430.5 L238,436.2 Z" fill="#2a2a50"/>
</svg></body></html>
